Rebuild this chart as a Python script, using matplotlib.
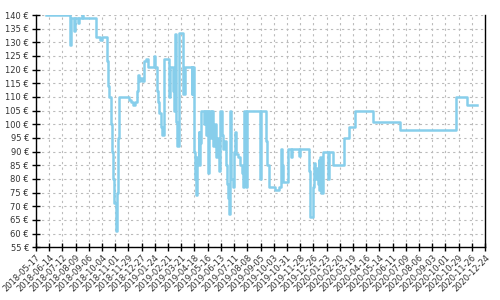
import matplotlib
matplotlib.use("Agg")
import matplotlib.pyplot as plt
import datetime as dt

dates = [
    "2018-06-07", "2018-07-29", "2018-07-31", "2018-08-06", "2018-08-08", "2018-08-15", "2018-08-17",
    "2018-08-23", "2018-08-25", "2018-09-21", "2018-09-29", "2018-10-03", "2018-10-15", "2018-10-17",
    "2018-10-19", "2018-10-22", "2018-10-24", "2018-10-26", "2018-10-28", "2018-10-30", "2018-11-02",
    "2018-11-03", "2018-11-05", "2018-11-06", "2018-11-08", "2018-12-01", "2018-12-04", "2018-12-09",
    "2018-12-13", "2018-12-17", "2018-12-19", "2018-12-21", "2018-12-23", "2018-12-27", "2018-12-31",
    "2019-01-02", "2019-01-06", "2019-01-09", "2019-01-22", "2019-01-25", "2019-01-28", "2019-01-31",
    "2019-02-02", "2019-02-05", "2019-02-07", "2019-02-09", "2019-02-12", "2019-02-24", "2019-02-26",
    "2019-03-04", "2019-03-05", "2019-03-08", "2019-03-10", "2019-03-12", "2019-03-16", "2019-03-24",
    "2019-03-28", "2019-04-12", "2019-04-13", "2019-04-16", "2019-04-18", "2019-04-20", "2019-04-22",
    "2019-04-24", "2019-04-27", "2019-04-28", "2019-04-30", "2019-05-02", "2019-05-08", "2019-05-10",
    "2019-05-12", "2019-05-14", "2019-05-17", "2019-05-18", "2019-05-23", "2019-05-25", "2019-05-28",
    "2019-06-01", "2019-06-03", "2019-06-05", "2019-06-08", "2019-06-11", "2019-06-15", "2019-06-17",
    "2019-06-20", "2019-06-23", "2019-06-26", "2019-06-29", "2019-07-01", "2019-07-03", "2019-07-04",
    "2019-07-08", "2019-07-10", "2019-07-12", "2019-07-15", "2019-07-19", "2019-07-24", "2019-07-27",
    "2019-07-30", "2019-08-02", "2019-08-06", "2019-08-08", "2019-09-04", "2019-09-05", "2019-09-17",
    "2019-09-19", "2019-09-22", "2019-10-06", "2019-10-15", "2019-10-19", "2019-10-21", "2019-10-23",
    "2019-11-03", "2019-11-09", "2019-11-11", "2019-11-26", "2019-11-28", "2019-12-16", "2019-12-19",
    "2019-12-25", "2019-12-27", "2019-12-30", "2020-01-02", "2020-01-04", "2020-01-06", "2020-01-08",
    "2020-01-10", "2020-01-12", "2020-01-15", "2020-01-26", "2020-01-29", "2020-02-06", "2020-03-01",
    "2020-03-11", "2020-03-23", "2020-05-01", "2020-06-27", "2020-10-23", "2020-11-15", "2020-12-06",
]
prices = [
    140, 129, 139, 134, 139, 137, 139,
    140, 139, 132, 131, 132, 123, 114,
    110, 105, 100, 90, 80, 71, 64,
    61, 75, 95, 110, 109, 108, 107,
    108, 112, 118, 116, 117, 116, 118,
    123, 124, 121, 125, 121, 112, 108,
    104, 101, 99, 96, 124, 110, 121,
    112, 105, 133, 101, 92, 133.5, 111,
    121, 111, 121, 99, 90, 80, 74,
    88, 97, 85, 93, 105, 100, 105,
    96, 105, 82, 105, 95, 105, 92,
    100, 88, 95, 83, 105, 96, 91,
    94, 85, 78, 73, 67, 105, 80,
    77, 90, 97, 89, 88, 85, 82,
    77, 105, 77, 105, 80, 105, 94,
    85, 77, 76, 77, 91, 85, 79,
    91, 88, 91, 88.5, 91, 83, 66,
    77, 86, 80, 84, 78, 87, 76,
    88, 75, 90, 80, 90, 85, 95,
    99, 105, 101, 98, 110, 107, 107,
]

tick_start = "2018-05-17"
tick_end = "2020-12-24"
y_ticks = list(range(55, 141, 5))

x = [dt.datetime.strptime(d, "%Y-%m-%d") for d in dates]
t0 = dt.datetime.strptime(tick_start, "%Y-%m-%d")
t1 = dt.datetime.strptime(tick_end, "%Y-%m-%d")
xticks = []
t = t0
while t <= t1:
    xticks.append(t)
    t += dt.timedelta(days=28)

fig = plt.figure(figsize=(5, 3), dpi=100)
ax = fig.add_axes([0.072, 0.176, 0.898, 0.774])
ax.plot(x, prices, drawstyle="steps-post", color="#87CEEB", linewidth=1.8)

ax.set_xlim(t0, t1)
ax.set_ylim(55, 140)
ax.set_yticks(y_ticks)
ax.set_yticklabels([f"{v} €" for v in y_ticks])
ax.set_xticks(xticks)
ax.set_xticklabels([d.strftime("%Y-%m-%d") for d in xticks], rotation=45, ha="right",
                   rotation_mode="anchor")

ax.grid(True, color="#bbbbbb", linestyle=(0, (2, 3)), linewidth=0.8)
ax.set_axisbelow(True)
ax.spines["top"].set_visible(False)
for s in ["left", "right", "bottom"]:
    ax.spines[s].set_color("black")
    ax.spines[s].set_linewidth(1.0)
ax.tick_params(axis="both", direction="inout", length=6, width=1, color="black",
               labelsize=6, labelcolor="#333333")
ax.tick_params(axis="y", pad=2)
ax.tick_params(axis="x", pad=1)

fig.savefig("out.png", dpi=100)
